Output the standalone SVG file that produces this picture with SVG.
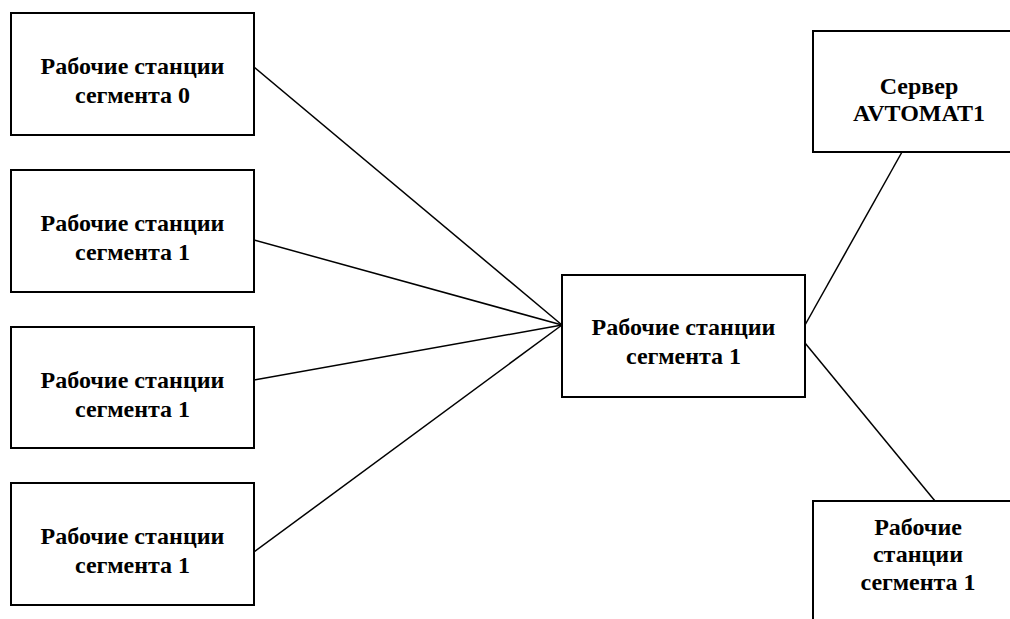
<svg xmlns="http://www.w3.org/2000/svg" width="1010" height="619" viewBox="0 0 1010 619">
<style>
.box{fill:#fff;stroke:#000;stroke-width:2}
.t{font-family:"Liberation Serif","Times New Roman",serif;font-weight:bold;font-size:24px;text-anchor:middle;fill:#000}
.c{stroke:#000;stroke-width:1.5;fill:none}
</style>
<rect width="1010" height="619" fill="#fff"/>
<g id="connectors">
<line class="c" x1="254" y1="67" x2="562" y2="325"/>
<line class="c" x1="254" y1="240" x2="562" y2="325"/>
<line class="c" x1="254" y1="380" x2="562" y2="325"/>
<line class="c" x1="254" y1="552" x2="562" y2="325"/>
<line class="c" x1="805" y1="325" x2="902" y2="152"/>
<line class="c" x1="805" y1="343" x2="935" y2="501"/>
</g>
<g id="ws0">
<rect class="box" x="11" y="13" width="243" height="122"/>
<text class="t" x="132.5" y="74">Рабочие станции</text>
<text class="t" x="132.5" y="103">сегмента 0</text>
</g>
<g id="ws1a">
<rect class="box" x="11" y="170" width="243" height="122"/>
<text class="t" x="132.5" y="231">Рабочие станции</text>
<text class="t" x="132.5" y="260">сегмента 1</text>
</g>
<g id="ws1b">
<rect class="box" x="11" y="327" width="243" height="121"/>
<text class="t" x="132.5" y="388">Рабочие станции</text>
<text class="t" x="132.5" y="417">сегмента 1</text>
</g>
<g id="ws1c">
<rect class="box" x="11" y="483" width="243" height="122"/>
<text class="t" x="132.5" y="544">Рабочие станции</text>
<text class="t" x="132.5" y="573">сегмента 1</text>
</g>
<g id="center">
<rect class="box" x="562" y="275" width="243" height="122"/>
<text class="t" x="683.5" y="335">Рабочие станции</text>
<text class="t" x="683.5" y="364">сегмента 1</text>
</g>
<g id="server">
<rect class="box" x="813" y="31" width="215" height="121"/>
<text class="t" x="919" y="94">Сервер</text>
<text class="t" x="919" y="121">AVTOMAT1</text>
</g>
<g id="ws-br">
<rect class="box" x="813" y="501" width="215" height="140"/>
<text class="t" x="918" y="535">Рабочие</text>
<text class="t" x="918" y="562">станции</text>
<text class="t" x="918" y="590">сегмента 1</text>
</g>
</svg>
